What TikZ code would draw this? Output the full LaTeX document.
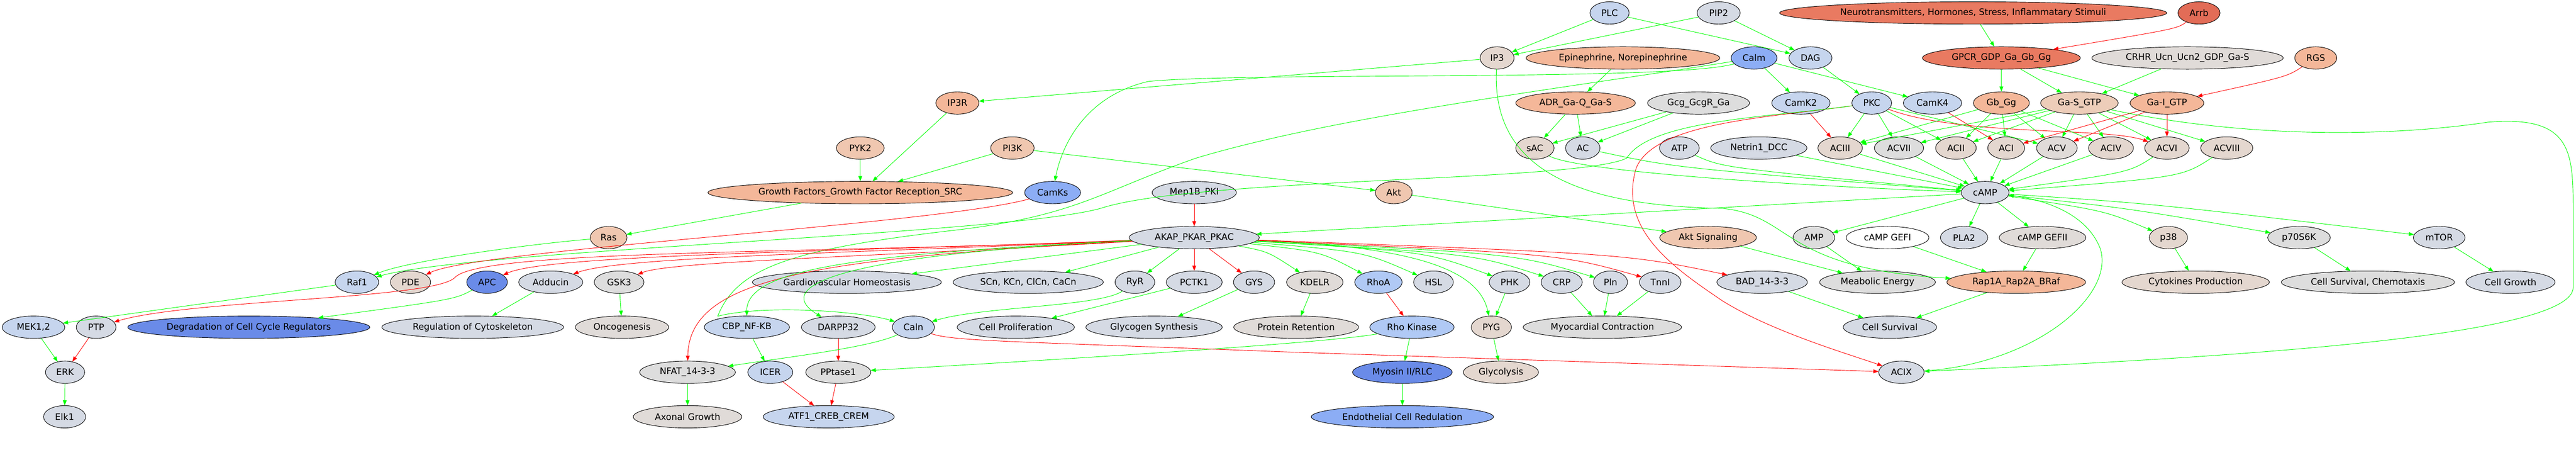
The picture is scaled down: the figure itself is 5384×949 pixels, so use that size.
\documentclass[tikz,border=0pt]{standalone}
\usepackage{fontspec}
\setmainfont{DejaVu Sans}
\usetikzlibrary{shapes.geometric,arrows.meta}
\definecolor{lsb}{HTML}{C6D5EE}
\definecolor{gb}{HTML}{D5DAE4}
\definecolor{gr}{HTML}{DDDDDD}
\definecolor{wg}{HTML}{E0DBD8}
\definecolor{bg}{HTML}{E4D7CF}
\definecolor{rb}{HTML}{6A8BE8}
\definecolor{cf}{HTML}{8CADF5}
\definecolor{sky}{HTML}{B0C9F5}
\definecolor{sl}{HTML}{F0C7B0}
\definecolor{sm}{HTML}{F4B799}
\definecolor{pe}{HTML}{EDCDB9}
\definecolor{tm}{HTML}{E97A61}
\definecolor{arr}{HTML}{E26C57}
\definecolor{grn}{HTML}{00FF00}
\definecolor{rd}{HTML}{FF0000}
\begin{document}
\begin{tikzpicture}[x=0.75pt,y=-0.75pt,font=\fontsize{14}{16}\selectfont,line join=round,
  nd/.style={ellipse,draw,line width=0.75pt,inner sep=0pt,minimum height=35pt},
  wd/.style={minimum width=#1*0.75pt},
  act/.style={grn,line width=0.75pt,-{Triangle[length=8pt,width=6pt]}},
  inh/.style={rd,line width=0.75pt,-{Triangle[length=8pt,width=6pt]}}]
\useasboundingbox (0,0) rectangle (5384,949);
% row 1
\node[nd,wd=82,fill=lsb] (plc) at (3364,27) {PLC};
\node[nd,wd=90,fill=gb] (pip) at (3592,27) {PIP2};
\node[nd,wd=809,fill=tm] (neuro) at (4124,27) {Neurotransmitters, Hormones, Stress, Inflammatary Stimuli};
\node[nd,wd=88,fill=arr] (arrb) at (4596,27) {Arrb};
% row 2
\node[nd,wd=71,fill=bg] (ip3) at (3129,121) {IP3};
\node[nd,wd=405,fill=sm] (epi) at (3392,121) {Epinephrine, Norepinephrine};
\node[nd,wd=96,fill=cf] (calm) at (3666,121) {Calm};
\node[nd,wd=90,fill=lsb] (dag) at (3784,121) {DAG};
\node[nd,wd=330,fill=tm] (gpcr) at (4183,121) {GPCR\_GDP\_Ga\_Gb\_Gg};
\node[nd,wd=400,fill=wg] (crhr) at (4572,121) {CRHR\_Ucn\_Ucn2\_GDP\_Ga-S};
\node[nd,wd=88,fill=sm] (rgs) at (4840,121) {RGS};
% row 3
\node[nd,wd=90,fill=sm] (ip3r) at (2001,215) {IP3R};
\node[nd,wd=250,fill=sm] (adr) at (3293,215) {ADR\_Ga-Q\_Ga-S};
\node[nd,wd=213,fill=gr] (gcg) at (3550,215) {Gcg\_GcgR\_Ga};
\node[nd,wd=122,fill=lsb] (camkii) at (3764,215) {CamK2};
\node[nd,wd=83,fill=lsb] (pkc) at (3912,215) {PKC};
\node[nd,wd=122,fill=lsb] (camkiv) at (4039,215) {CamK4};
\node[nd,wd=117,fill=sm] (gbgg) at (4183,215) {Gb\_Gg};
\node[nd,wd=162,fill=pe] (gas) at (4346,215) {Ga-S\_GTP};
\node[nd,wd=154,fill=sm] (gai) at (4529,215) {Ga-I\_GTP};
% row 4
\node[nd,wd=100,fill=sl] (pyk) at (1798,309) {PYK2};
\node[nd,wd=91,fill=sl] (pik) at (2116,309) {PI3K};
\node[nd,wd=80,fill=bg] (sac) at (3208,309) {sAC};
\node[nd,wd=72,fill=gb] (ac) at (3308,309) {AC};
\node[nd,wd=83,fill=gb] (atp) at (3510,309) {ATP};
\node[nd,wd=201,fill=gb] (netrin) at (3676,309) {Netrin1\_DCC};
\node[nd,wd=93,fill=bg] (aciii) at (3846,309) {ACIII};
\node[nd,wd=103,fill=gr] (acvii) at (3969,309) {ACVII};
\node[nd,wd=85,fill=bg] (acii) at (4088,309) {ACII};
\node[nd,wd=77,fill=bg] (aci) at (4193,309) {ACI};
\node[nd,wd=85,fill=wg] (acv) at (4299,309) {ACV};
\node[nd,wd=94,fill=bg] (aciv) at (4412,309) {ACIV};
\node[nd,wd=93,fill=bg] (acvi) at (4529,309) {ACVI};
\node[nd,wd=109,fill=bg] (acviii) at (4654,309) {ACVIII};
% row 5
\node[nd,wd=637,fill=sm] (gf) at (1798,402) {Growth Factors\_Growth Factor Reception\_SRC};
\node[nd,wd=117,fill=cf] (camks) at (2200,402) {CamKs};
\node[nd,wd=176,fill=gb] (mep) at (2496,402) {Mep1B\_PKI};
\node[nd,wd=77,fill=sl] (akt) at (2913,402) {Akt};
\node[nd,wd=100,fill=gb] (camp) at (4149,402) {cAMP};
% row 6
\node[nd,wd=77,fill=sl] (ras) at (1272,496) {Ras};
\node[nd,wd=272,fill=gb] (akap) at (2496,496) {AKAP\_PKAR\_PKAC};
\node[nd,wd=202,fill=sl] (aktsig) at (3570,496) {Akt Signaling};
\node[nd,wd=87,fill=gr] (amp) at (3791,496) {AMP};
\node[nd,wd=173,fill=white] (gefi) at (3945,496) {cAMP GEFI};
\node[nd,wd=99,fill=gb] (pla) at (4105,496) {PLA2};
\node[nd,wd=181,fill=wg] (gefii) at (4269,496) {cAMP GEFII};
\node[nd,wd=80,fill=bg] (p38) at (4532,496) {p38};
\node[nd,wd=131,fill=gr] (psk) at (4805,496) {p70S6K};
\node[nd,wd=108,fill=gb] (mtor) at (5098,496) {mTOR};
% row 7
\node[nd,wd=91,fill=lsb] (raf) at (746,589) {Raf1};
\node[nd,wd=84,fill=bg] (pde) at (858,589) {PDE};
\node[nd,wd=85,fill=rb] (apc) at (1018,589) {APC};
\node[nd,wd=134,fill=gb] (add) at (1151,589) {Adducin};
\node[nd,wd=104,fill=gr] (gsk) at (1294,589) {GSK3};
\node[nd,wd=395,fill=gb] (gardio) at (1770,589) {Gardiovascular Homeostasis};
\node[nd,wd=314,fill=gb] (scn) at (2149,589) {SCn, KCn, ClCn, CaCn};
\node[nd,wd=83,fill=gb] (ryr) at (2372,589) {RyR};
\node[nd,wd=117,fill=gb] (pctk) at (2496,589) {PCTK1};
\node[nd,wd=86,fill=gb] (gys) at (2621,589) {GYS};
\node[nd,wd=118,fill=wg] (kdelr) at (2748,589) {KDELR};
\node[nd,wd=99,fill=sky] (rhoa) at (2881,589) {RhoA};
\node[nd,wd=83,fill=gb] (hsl) at (2996,589) {HSL};
\node[nd,wd=85,fill=gb] (phk) at (3155,589) {PHK};
\node[nd,wd=86,fill=gb] (crp) at (3264,589) {CRP};
\node[nd,wd=71,fill=gb] (pln) at (3366,589) {Pln};
\node[nd,wd=87,fill=gb] (tnni) at (3470,589) {TnnI};
\node[nd,wd=189,fill=gb] (bad) at (3683,589) {BAD\_14-3-3};
\node[nd,wd=242,fill=gr] (meab) at (3924,589) {Meabolic Energy};
\node[nd,wd=290,fill=sm] (rap) at (4214,589) {Rap1A\_Rap2A\_BRaf};
\node[nd,wd=308,fill=bg] (cyto) at (4589,589) {Cytokines Production};
\node[nd,wd=362,fill=gr] (cschem) at (4949,589) {Cell Survival, Chemotaxis};
\node[nd,wd=186,fill=gb] (cgrowth) at (5247,589) {Cell Growth};
% row 8
\node[nd,wd=131,fill=lsb] (mek) at (70,683) {MEK1,2};
\node[nd,wd=83,fill=gb] (ptp) at (201,683) {PTP};
\node[nd,wd=506,fill=rb] (degr) at (520,683) {Degradation of Cell Cycle Regulators};
\node[nd,wd=380,fill=gb] (regcyto) at (988,683) {Regulation of Cytoskeleton};
\node[nd,wd=195,fill=wg] (onco) at (1300,683) {Oncogenesis};
\node[nd,wd=178,fill=lsb] (cbp) at (1561,683) {CBP\_NF-KB};
\node[nd,wd=154,fill=gb] (darpp) at (1752,683) {DARPP32};
\node[nd,wd=88,fill=lsb] (caln) at (1909,683) {Caln};
\node[nd,wd=245,fill=gb] (prolif) at (2123,683) {Cell Proliferation};
\node[nd,wd=285,fill=gb] (glyco) at (2412,683) {Glycogen Synthesis};
\node[nd,wd=261,fill=wg] (protret) at (2709,683) {Protein Retention};
\node[nd,wd=176,fill=sky] (rhok) at (2951,683) {Rho Kinase};
\node[nd,wd=84,fill=bg] (pyg) at (3117,683) {PYG};
\node[nd,wd=331,fill=gr] (myoc) at (3349,683) {Myocardial Contraction};
\node[nd,wd=195,fill=gb] (csurv) at (3950,683) {Cell Survival};
% row 9
\node[nd,wd=82,fill=gb] (erk) at (136,777) {ERK};
\node[nd,wd=200,fill=gr] (nfat) at (1437,777) {NFAT\_14-3-3};
\node[nd,wd=94,fill=lsb] (icer) at (1610,777) {ICER};
\node[nd,wd=136,fill=gr] (pptase) at (1752,777) {PPtase1};
\node[nd,wd=208,fill=rb] (myosin) at (2931,777) {Myosin II/RLC};
\node[nd,wd=157,fill=bg] (glycol) at (3137,777) {Glycolysis};
\node[nd,wd=95,fill=gb] (acix) at (3974,777) {ACIX};
% row 10
\node[nd,wd=88,fill=gb] (elk) at (135,870) {Elk1};
\node[nd,wd=227,fill=wg] (axon) at (1437,870) {Axonal Growth};
\node[nd,wd=274,fill=lsb] (atf) at (1732,870) {ATF1\_CREB\_CREM};
\node[nd,wd=381,fill=cf] (endo) at (2931,870) {Endothelial Cell Redulation};
% receptors and G proteins
\draw[act] (neuro) -- (gpcr);
\draw[inh] (arrb) .. controls (4550,60) .. (gpcr);
\draw[act] (gpcr) -- (gbgg);
\draw[act] (gpcr) -- (gas);
\draw[act] (gpcr) -- (gai);
\draw[act] (crhr) -- (gas);
\draw[inh] (rgs) .. controls (4780,160) .. (gai);
\draw[act] (plc) -- (ip3);
\draw[act] (pip) -- (ip3);
\draw[act] (plc) -- (dag);
\draw[act] (pip) -- (dag);
\draw[act] (dag) -- (pkc);
\draw[act] (calm) -- (camkii);
\draw[act] (calm) -- (camkiv);
\draw[act] (epi) -- (adr);
\draw[act] (adr) -- (sac);
\draw[act] (adr) -- (ac);
\draw[act] (gcg) -- (sac);
\draw[act] (gcg) -- (ac);
% adenylyl cyclases
\draw[inh] (camkii) -- (aciii);
\draw[inh] (camkiv) -- (aci);
\draw[act] (pkc) -- (aciii);
\draw[act] (pkc) -- (acvii);
\draw[act] (pkc) -- (acii);
\draw[act] (pkc) -- (acv);
\draw[inh] (pkc) .. controls (4100,285) and (4400,265) .. (acvi);
\draw[act] (gbgg) -- (aciii);
\draw[act] (gbgg) -- (acii);
\draw[act] (gbgg) -- (aci);
\draw[act] (gbgg) -- (acv);
\draw[act] (gbgg) -- (aciv);
\draw[act] (gas) -- (aciii);
\draw[act] (gas) -- (acvii);
\draw[act] (gas) -- (acii);
\draw[act] (gas) -- (acv);
\draw[act] (gas) -- (aciv);
\draw[act] (gas) -- (acvi);
\draw[act] (gas) -- (acviii);
\draw[inh] (gai) -- (aci);
\draw[inh] (gai) -- (acv);
\draw[inh] (gai) -- (acvi);
\draw[act] (gas) .. controls (4700,290) and (5000,285) .. (5200,255) .. controls (5380,240) and (5378,320) .. (5378,450) -- (5378,600) .. controls (5378,700) and (4700,745) .. (acix);
\draw[inh] (pkc) .. controls (3700,245) and (3460,255) .. (3420,350) .. controls (3380,480) and (3500,560) .. (3600,628) .. controls (3700,690) and (3850,735) .. (acix);
% cAMP
\draw[act] (sac) .. controls (3300,360) and (3800,390) .. (camp);
\draw[act] (ac) .. controls (3500,350) .. (camp);
\draw[act] (atp) .. controls (3600,350) .. (camp);
\draw[act] (netrin) -- (camp);
\draw[act] (aciii) -- (camp);
\draw[act] (acvii) -- (camp);
\draw[act] (acii) -- (camp);
\draw[act] (aci) -- (camp);
\draw[act] (acv) -- (camp);
\draw[act] (aciv) -- (camp);
\draw[act] (acvi) .. controls (4450,360) .. (camp);
\draw[act] (acviii) .. controls (4560,370) .. (camp);
\draw[act] (acix) .. controls (4250,760) and (4420,620) .. (4390,520) .. controls (4360,440) and (4260,415) .. (camp);
\draw[act] (camp) -- (akap);
\draw[act] (camp) -- (amp);
\draw[act] (camp) -- (pla);
\draw[act] (camp) -- (gefii);
\draw[act] (camp) .. controls (4400,440) .. (p38);
\draw[act] (camp) .. controls (4450,435) .. (psk);
\draw[act] (camp) .. controls (4500,425) .. (mtor);
\draw[act] (gefi) -- (rap);
\draw[act] (gefii) -- (rap);
\draw[act] (ip3) .. controls (3115,380) and (3350,430) .. (3600,435) .. controls (3750,450) and (3720,560) .. (rap);
\draw[act] (rap) -- (csurv);
\draw[act] (bad) -- (csurv);
\draw[act] (amp) -- (meab);
\draw[act] (aktsig) -- (meab);
\draw[act] (p38) -- (cyto);
\draw[act] (psk) -- (cschem);
\draw[act] (mtor) -- (cgrowth);
% calcium and growth factors
\draw[act] (ip3) -- (ip3r);
\draw[act] (calm) .. controls (3500,170) and (2600,150) .. (2400,170) .. controls (2270,200) and (2220,300) .. (camks);
\draw[act] (calm) .. controls (3300,180) and (2800,240) .. (2500,330) .. controls (2300,400) and (2250,450) .. (2000,480) .. controls (1650,520) and (1540,560) .. (1500,660) .. controls (1600,635) and (1800,650) .. (caln);
\draw[act] (pkc) .. controls (3700,245) and (3450,250) .. (3400,330) .. controls (3300,380) and (2500,370) .. (2300,435) .. controls (2100,490) and (1000,520) .. (raf);
\draw[inh] (camks) .. controls (1950,470) and (1000,520) .. (pde);
\draw[act] (pyk) -- (gf);
\draw[act] (ip3r) -- (gf);
\draw[act] (pik) -- (gf);
\draw[act] (pik) -- (akt);
\draw[act] (akt) -- (aktsig);
\draw[act] (gf) -- (ras);
\draw[act] (ras) .. controls (1100,510) and (850,545) .. (raf);
\draw[act] (raf) -- (mek);
\draw[act] (mek) -- (erk);
\draw[inh] (ptp) -- (erk);
\draw[act] (erk) -- (elk);
% PKA targets
\draw[inh] (mep) -- (akap);
\draw[inh] (akap) .. controls (1700,530) and (1000,520) .. (950,580) .. controls (900,625) and (400,625) .. (ptp);
\draw[inh] (akap) .. controls (1800,525) and (1150,530) .. (apc);
\draw[inh] (akap) .. controls (1800,528) and (1300,535) .. (add);
\draw[inh] (akap) .. controls (1850,535) and (1400,545) .. (gsk);
\draw[inh] (akap) .. controls (1700,540) and (1440,580) .. (nfat);
\draw[act] (akap) .. controls (1800,530) and (1560,560) .. (cbp);
\draw[act] (akap) .. controls (1800,530) and (1600,590) .. (darpp);
\draw[act] (akap) -- (gardio);
\draw[act] (akap) -- (scn);
\draw[act] (akap) -- (ryr);
\draw[inh] (akap) -- (pctk);
\draw[inh] (akap) -- (gys);
\draw[act] (akap) .. controls (2650,525) .. (kdelr);
\draw[act] (akap) .. controls (2760,525) .. (rhoa);
\draw[act] (akap) .. controls (2850,525) .. (hsl);
\draw[act] (akap) .. controls (2950,515) and (3090,560) .. (pyg);
\draw[act] (akap) .. controls (2980,525) .. (phk);
\draw[act] (akap) .. controls (3080,530) .. (crp);
\draw[act] (akap) .. controls (3170,530) .. (pln);
\draw[inh] (akap) .. controls (3260,530) .. (tnni);
\draw[inh] (akap) .. controls (3400,530) .. (bad);
% effects
\draw[act] (apc) .. controls (950,625) .. (degr);
\draw[act] (add) -- (regcyto);
\draw[act] (gsk) -- (onco);
\draw[act] (ryr) .. controls (2300,640) and (2050,640) .. (caln);
\draw[act] (pctk) -- (prolif);
\draw[act] (gys) -- (glyco);
\draw[act] (kdelr) -- (protret);
\draw[inh] (rhoa) -- (rhok);
\draw[act] (rhok) -- (myosin);
\draw[act] (myosin) -- (endo);
\draw[act] (rhok) .. controls (2800,712) and (2400,740) .. (pptase);
\draw[act] (phk) -- (pyg);
\draw[act] (pyg) -- (glycol);
\draw[act] (crp) -- (myoc);
\draw[act] (pln) -- (myoc);
\draw[act] (tnni) -- (myoc);
\draw[act] (cbp) -- (icer);
\draw[inh] (icer) -- (atf);
\draw[inh] (darpp) -- (pptase);
\draw[inh] (pptase) -- (atf);
\draw[act] (caln) .. controls (1820,725) and (1650,745) .. (nfat);
\draw[inh] (caln) .. controls (1990,712) and (2100,712) .. (2700,735) -- (acix);
\draw[act] (nfat) -- (axon);
\end{tikzpicture}
\end{document}
